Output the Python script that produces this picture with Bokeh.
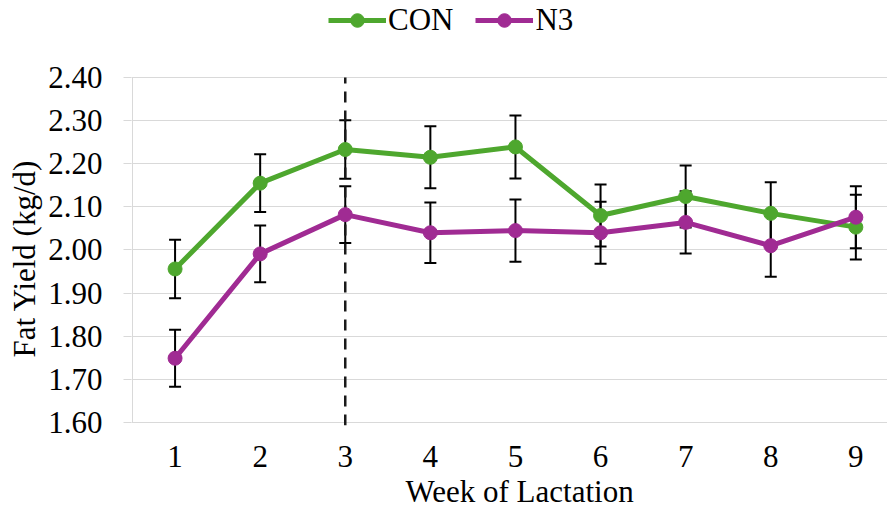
from bokeh.plotting import figure
from bokeh.models import (ColumnDataSource, Range1d, FixedTicker, NumeralTickFormatter,
                          Whisker, TeeHead, Legend, LegendItem, Title)
from bokeh.embed import file_html
from bokeh.resources import INLINE

# Fat yield (kg/d) by week of lactation, mean ± SE
weeks = [1, 2, 3, 4, 5, 6, 7, 8, 9]
con_mean = [1.956, 2.155, 2.233, 2.215, 2.239, 2.080, 2.124, 2.085, 2.053]
con_se = [0.068, 0.067, 0.068, 0.072, 0.073, 0.072, 0.072, 0.072, 0.075]
n3_mean = [1.749, 1.991, 2.082, 2.040, 2.045, 2.040, 2.064, 2.010, 2.076]
n3_se = [0.066, 0.066, 0.066, 0.070, 0.072, 0.072, 0.072, 0.072, 0.072]
y_ticks = [1.60, 1.70, 1.80, 1.90, 2.00, 2.10, 2.20, 2.30, 2.40]
marker_week = 3

FONT = "Liberation Serif"
GREEN = "#4EA72E"
PURPLE = "#A02B93"
GRID = "#D9D9D9"
FS = "31px"

Y_MIN, Y_MAX = 1.593, 2.5786   # room above the top gridline holds the legend
X_MIN, X_MAX = 0.488, 9.372


def series_source(mean, se):
    return ColumnDataSource(dict(
        x=weeks, y=mean,
        upper=[m + s for m, s in zip(mean, se)],
        lower=[m - s for m, s in zip(mean, se)],
    ))


con_src = series_source(con_mean, con_se)
n3_src = series_source(n3_mean, n3_se)

p = figure(width=887, height=520, output_backend="svg", toolbar_location=None,
           x_range=Range1d(X_MIN, X_MAX), y_range=Range1d(Y_MIN, Y_MAX),
           min_border_left=131, min_border_right=0, min_border_top=0,
           min_border_bottom=95, title=None)
p.outline_line_color = None
p.background_fill_color = "white"
p.border_fill_color = "white"

# axes
p.xaxis.ticker = FixedTicker(ticks=weeks)
p.yaxis.ticker = FixedTicker(ticks=y_ticks)
p.yaxis.formatter = NumeralTickFormatter(format="0.00")
for ax in (p.xaxis[0], p.yaxis[0]):
    ax.axis_line_color = None
    ax.major_tick_line_color = GRID
    ax.major_tick_in = 0
    ax.minor_tick_line_color = None
    ax.major_label_text_font = FONT
    ax.major_label_text_font_size = FS
    ax.major_label_text_color = "black"
p.xaxis.major_tick_out = 0
p.xaxis.major_label_standoff = 20
p.yaxis.major_tick_out = 8
p.yaxis.major_label_standoff = 21

# axis titles, placed as side titles so they can be shifted along the frame
p.add_layout(Title(text="Fat Yield (kg/d)", align="left", offset=68, standoff=8,
                   text_font=FONT, text_font_size=FS, text_font_style="normal",
                   text_color="black"), "left")
p.add_layout(Title(text="Week of Lactation", align="left", offset=274, standoff=8,
                   vertical_align="top",
                   text_font=FONT, text_font_size=FS, text_font_style="normal",
                   text_color="black"), "below")

p.xgrid.grid_line_color = None
p.ygrid.grid_line_color = GRID
p.ygrid.grid_line_width = 1

# vertical value axis line, spanning the tick range only
p.segment(x0=[0.5], y0=[y_ticks[0]], x1=[0.5], y1=[y_ticks[-1]],
          line_color=GRID, line_width=1)

# week-3 reference line
p.segment(x0=[marker_week], y0=[Y_MIN], x1=[marker_week], y1=[y_ticks[-1]],
          line_color="#1A1A1A", line_width=2.5, line_dash="11 8")

# series
con_line = p.line("x", "y", source=con_src, line_color=GREEN, line_width=5)
con_pts = p.scatter("x", "y", source=con_src, size=14, fill_color=GREEN, line_color=GREEN)
n3_line = p.line("x", "y", source=n3_src, line_color=PURPLE, line_width=5)
n3_pts = p.scatter("x", "y", source=n3_src, size=14, fill_color=PURPLE, line_color=PURPLE)

for src in (con_src, n3_src):
    p.add_layout(Whisker(source=src, base="x", upper="upper", lower="lower",
                         line_color="black", line_width=2,
                         upper_head=TeeHead(size=12, line_color="black", line_width=2),
                         lower_head=TeeHead(size=12, line_color="black", line_width=2)))

legend = Legend(items=[LegendItem(label="CON", renderers=[con_line, con_pts]),
                       LegendItem(label="N3", renderers=[n3_line, n3_pts])],
                orientation="horizontal", location=(197, 387),
                label_text_font=FONT, label_text_font_size=FS, label_text_color="black",
                label_standoff=2, glyph_width=58, glyph_height=34,
                spacing=22, padding=0, margin=0,
                border_line_color=None, background_fill_alpha=0)
p.add_layout(legend, "center")

open("out.html", "w").write(file_html(p, INLINE))
